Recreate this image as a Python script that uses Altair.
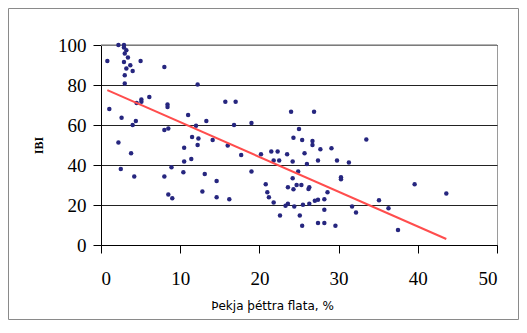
import altair as alt
import pandas as pd

# Scatter values
x_vals = [2.2, 2.9, 2.9, 3.2, 3.0, 3.4, 2.9, 3.7, 3.2, 4.0, 3.0, 3.0, 0.8, 5.0, 8.0, 12.2,
          1.05, 2.6, 4.0, 4.4, 4.5, 5.1, 5.1, 6.1, 8.4, 8.4, 11.0, 12.0, 8.0, 8.5, 11.5, 12.3,
          12.2, 10.5, 2.2, 3.8, 2.5, 4.2, 8.0, 8.9, 8.5, 9.0, 10.5, 11.4, 10.4,
          15.7, 17.0, 24.0, 13.3, 16.8, 19.0, 25.0, 14.1, 16.0, 24.3, 25.4, 26.9, 26.7, 26.7,
          33.5, 27.7, 29.1, 25.7, 26.0, 27.4, 29.8, 31.3, 30.3, 30.3, 25.3, 26.3, 26.2, 28.6,
          25.5, 26.3, 27.0, 27.4, 28.2, 28.2, 31.7, 32.2, 35.1, 36.3, 37.5, 25.1, 25.4, 27.4,
          28.2, 29.6, 39.6, 43.6, 17.7, 20.2, 21.5, 22.3, 23.5, 21.8, 22.5, 24.2, 13.1, 14.6,
          12.8, 14.6, 16.2, 19.0, 20.8, 21.0, 21.2, 21.8, 23.3, 23.6, 24.4, 24.9, 24.2, 23.6,
          24.3, 24.7, 22.6]
y_vals = [100, 100, 98.7, 97.4, 95.7, 93.7, 91.5, 89.9, 88.2, 87, 84.9, 80.8, 92, 92, 89, 80.3,
          68, 63.6, 60, 62, 71, 72.8, 71.6, 74, 70.3, 69, 65, 59.6, 57.5, 58.3, 54, 53.3,
          50, 48.6, 51.3, 45.9, 38, 34.2, 34.2, 38.9, 25.2, 23.4, 41.7, 43, 36.4,
          71.6, 71.6, 66.6, 62, 60, 61, 58, 52.5, 49.7, 53.6, 52.5, 66.6, 52, 50,
          52.8, 47.9, 48.4, 45.9, 40.5, 42.2, 42.2, 41.2, 33.9, 32.9, 30, 28.9, 28, 26.4,
          20.1, 20.6, 22.1, 22.6, 22.9, 17.6, 19.2, 16.3, 22.4, 18.4, 7.5, 14.8, 9.6, 11,
          11, 9.6, 30.4, 25.7, 45, 45.4, 46.7, 46.7, 45.4, 42.2, 42.2, 41.7, 35.5, 32,
          26.7, 23.9, 22.9, 36.7, 30.4, 26.4, 23.9, 21.2, 19.6, 20.6, 19.2, 36.7, 33.4, 28.9,
          27.9, 30, 14.8]

# Trend line end points
trend_x = [0.8, 43.6]
trend_y = [77.4, 3.0]

x_ticks = [0, 10, 20, 30, 40, 50]
y_ticks = [0, 20, 40, 60, 80, 100]
y_top = 100

x_title = "Þekja þéttra flata, %"
y_title = "IBI"

pts = pd.DataFrame({"x": x_vals, "y": y_vals})
trend = pd.DataFrame({"x": trend_x, "y": trend_y})

W, H = 396, 200
PL, PT, PR, PB = 93, 37, 22, 75

xs = alt.Scale(domain=[0, 50], nice=False, zero=False)
ys = alt.Scale(domain=[0, 100], nice=False)

xaxis = alt.Axis(values=x_ticks, grid=False, tickSize=8, domainColor="black",
                 tickColor="black", labelFont="Liberation Serif", labelFontSize=19,
                 labelColor="black", labelPadding=16, labelOverlap=False, title=x_title,
                 titleFont="DejaVu Sans", titleFontSize=12, titleFontWeight="normal",
                 titleColor="black", titleX=171, titleY=60, titleAlign="center",
                 titleBaseline="middle")
yaxis = alt.Axis(values=y_ticks, tickCount=6, grid=True, labelOverlap=False,
                 gridColor="#222222",
                 gridWidth=1, tickSize=8, domainColor="black", tickColor="black",
                 labelFont="Liberation Serif", labelFontSize=19, labelColor="black",
                 labelPadding=7, title=y_title, titleFont="Liberation Serif",
                 titleFontSize=12, titleFontWeight="bold", titleColor="black",
                 titleX=-63, titleY=100, titleAngle=270, titleAlign="center",
                 titleBaseline="middle")

border = alt.Chart(pd.DataFrame({"a": [0]})).mark_rect(
    filled=False, stroke="#8a8a8a", strokeWidth=1
).encode(
    x=alt.value(-PL + 0.5), x2=alt.value(W + PR - 0.5),
    y=alt.value(-PT + 0.5), y2=alt.value(H + PB - 0.5)
)

top_rule = alt.Chart(pd.DataFrame({"a": [0]})).mark_rule(
    color="#9a9a9a", strokeWidth=1.5
).encode(y=alt.Y(datum=y_top, scale=ys, axis=yaxis))

points = alt.Chart(pts).mark_circle(size=20, color="#26267f", opacity=1).encode(
    x=alt.X("x:Q", scale=xs, axis=xaxis),
    y=alt.Y("y:Q", scale=ys, axis=yaxis),
)

line = alt.Chart(trend).mark_line(color="#ff4d4d", strokeWidth=2).encode(
    x=alt.X("x:Q", scale=xs, axis=xaxis),
    y=alt.Y("y:Q", scale=ys, axis=yaxis),
)

chart = alt.layer(top_rule, points, line, border).properties(
    width=W, height=H,
    autosize=alt.AutoSizeParams(type="none"),
    padding={"left": PL, "top": PT, "right": PR, "bottom": PB},
    background="white",
).configure_view(stroke="#9a9a9a", strokeWidth=1)

chart.save("out.html", embed_options={"renderer": "svg", "actions": False})
